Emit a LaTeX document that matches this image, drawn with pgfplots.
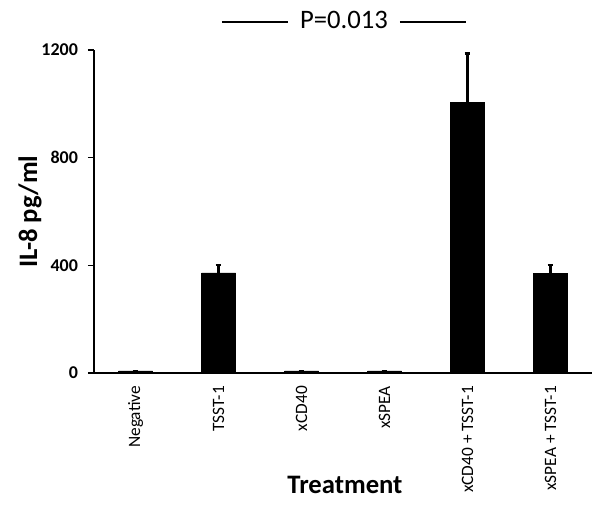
\documentclass[border=0pt]{standalone}
\usepackage{fontspec}
\setmainfont{Carlito}
\usepackage{pgfplots}
\pgfplotsset{compat=1.18}

\pgfplotstableread{
x  y     err
0  8     0
1  372   28
2  8     0
3  8     0
4  1005  182
5  370   32
}\ildata

\begin{document}
\begin{tikzpicture}
\begin{axis}[
  name=ax,
  scale only axis,
  width=373.5pt, height=242.25pt,
  xmin=-0.5, xmax=5.5,
  ymin=0, ymax=1200,
  axis x line=bottom, axis y line=left,
  axis line style={-, line width=1pt, black},
  xtick=data,
  xticklabels={Negative, TSST-1, xCD40, xSPEA, xCD40 + TSST-1, xSPEA + TSST-1},
  xtick style={draw=none},
  xticklabel style={rotate=90, anchor=east, font=\fontsize{13}{15}\selectfont, xshift=-4pt},
  ytick={0,400,800,1200},
  ytick align=outside,
  major tick length=4.5pt,
  ytick style={line width=1pt, black},
  yticklabel style={font=\fontsize{13.5}{15}\selectfont\bfseries, xshift=-4pt},
  /pgf/number format/assume math mode=true,
  /pgf/number format/1000 sep={},
  ylabel={IL-8 pg/ml},
  ylabel style={font=\fontsize{20}{22}\selectfont\bfseries, at={(axis description cs:-0.1285,0.5)}, anchor=center},
  xlabel={Treatment},
  xlabel style={font=\fontsize{20}{22}\selectfont\bfseries, at={(axis description cs:0.504,-0.347)}, anchor=center},
  clip=false,
]
\addplot[ybar, bar width=25.5pt, fill=black, draw=black,
  error bars/.cd, y dir=plus, y explicit,
  error bar style={line width=1.6pt, black},
  error mark options={rotate=90, mark size=2.2pt, line width=1.6pt}]
  table[x=x, y=y, y error=err] {\ildata};
\node[font=\fontsize{20}{22}\selectfont, anchor=center] at (axis description cs:0.502,1.093) {P=0.013};
\draw[line width=1.2pt] (axis description cs:0.257,1.087) -- (axis description cs:0.39,1.087);
\draw[line width=1.2pt] (axis description cs:0.614,1.087) -- (axis description cs:0.747,1.087);
\end{axis}
\pgfresetboundingbox
\path ([shift={(-70.5pt,-101.25pt)}]ax.south west) rectangle ([shift={(7.5pt,37.5pt)}]ax.north east);
\end{tikzpicture}
\end{document}
